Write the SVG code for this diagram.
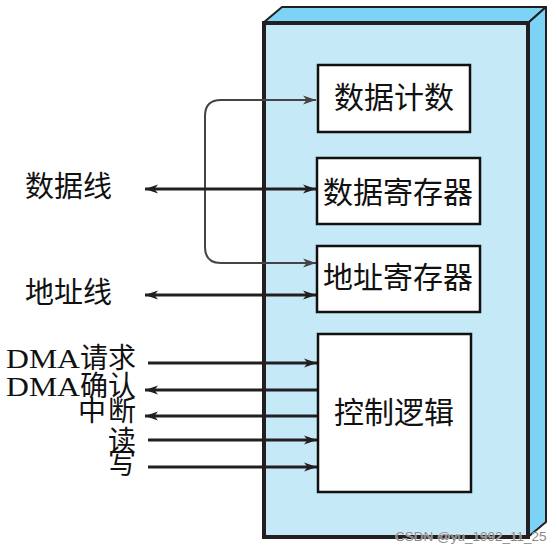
<svg xmlns="http://www.w3.org/2000/svg" width="557" height="555" viewBox="0 0 557 555">
<style>
.cjk{font-family:"Noto Sans CJK SC","Noto Sans",sans-serif;fill:#111}
.lat{font-family:"Liberation Serif",serif}
.box{fill:#fff;stroke:#111;stroke-width:2.5}
.bus{fill:none;stroke:#231f20;stroke-width:3}
.loop{fill:none;stroke:#444;stroke-width:2}
</style>
<defs>
<marker id="ah" markerUnits="userSpaceOnUse" markerWidth="14" markerHeight="10" refX="13" refY="5" orient="auto-start-reverse">
<path d="M0,0.5 L13,5 L0,9.5 L3.5,5 Z" fill="#231f20"/>
</marker>
<marker id="ahl" markerUnits="userSpaceOnUse" markerWidth="14" markerHeight="10" refX="13" refY="5" orient="auto-start-reverse">
<path d="M0,0.5 L13,5 L0,9.5 L3.5,5 Z" fill="#444"/>
</marker>
</defs>
<rect width="557" height="555" fill="#fff"/>
<g id="dma-unit">
<polygon points="263,23 282,7 546,7 528,23" fill="#7dd3f5" stroke="#231f20" stroke-width="2" stroke-linejoin="round"/>
<polygon points="528,23 546,7 546,522 528,537" fill="#7dd3f5" stroke="#231f20" stroke-width="2" stroke-linejoin="round"/>
<rect x="264" y="23" width="264" height="514" fill="#c6e9f8" stroke="#231f20" stroke-width="4"/>
</g>
<g id="connectors">
<path class="loop" d="M316,100 L221,100 Q205,100 205,116 L205,247 Q205,263 221,263 L316,263" marker-start="url(#ahl)" marker-end="url(#ahl)"/>
<line class="bus" x1="145" y1="189" x2="316" y2="189" marker-start="url(#ah)" marker-end="url(#ah)"/>
<line class="bus" x1="145" y1="295" x2="316" y2="295" marker-start="url(#ah)" marker-end="url(#ah)"/>
<line class="bus" x1="148" y1="363" x2="317" y2="363" marker-end="url(#ah)"/>
<line class="bus" x1="145" y1="390" x2="317" y2="390" marker-start="url(#ah)"/>
<line class="bus" x1="145" y1="416" x2="317" y2="416" marker-start="url(#ah)"/>
<line class="bus" x1="148" y1="440" x2="317" y2="440" marker-end="url(#ah)"/>
<line class="bus" x1="148" y1="467" x2="317" y2="467" marker-end="url(#ah)"/>
</g>
<g id="data-count">
<rect class="box" x="318" y="65" width="152" height="67"/>
<text class="cjk" x="394" y="108" font-size="30" text-anchor="middle">数据计数</text>
</g>
<g id="data-register">
<rect class="box" x="317" y="158" width="163" height="66"/>
<text class="cjk" x="398" y="203" font-size="30" text-anchor="middle">数据寄存器</text>
</g>
<g id="address-register">
<rect class="box" x="317" y="246" width="163" height="66"/>
<text class="cjk" x="398" y="288" font-size="30" text-anchor="middle">地址寄存器</text>
</g>
<g id="control-logic">
<rect class="box" x="318" y="334" width="153" height="158"/>
<text class="cjk" x="394" y="423" font-size="30" text-anchor="middle">控制逻辑</text>
</g>
<g id="labels">
<text class="cjk" x="25" y="197" font-size="29">数据线</text>
<text class="cjk" x="25" y="303" font-size="29">地址线</text>
<text class="cjk" x="6" y="368" font-size="28"><tspan class="lat" textLength="74" lengthAdjust="spacingAndGlyphs">DMA</tspan>请求</text>
<text class="cjk" x="6" y="396" font-size="28"><tspan class="lat" textLength="74" lengthAdjust="spacingAndGlyphs">DMA</tspan>确认</text>
<text class="cjk" x="78" y="421" font-size="28">中<tspan x="108">断</tspan></text>
<text class="cjk" x="108" y="451" font-size="28">读</text>
<text class="cjk" x="108" y="474" font-size="28">写</text>
</g>
<text x="395" y="541" font-family="Liberation Sans,sans-serif" font-size="13.5" fill="#888" stroke="#fff" stroke-width="0.5" paint-order="stroke">CSDN @yu_1992_11_25</text>
</svg>
